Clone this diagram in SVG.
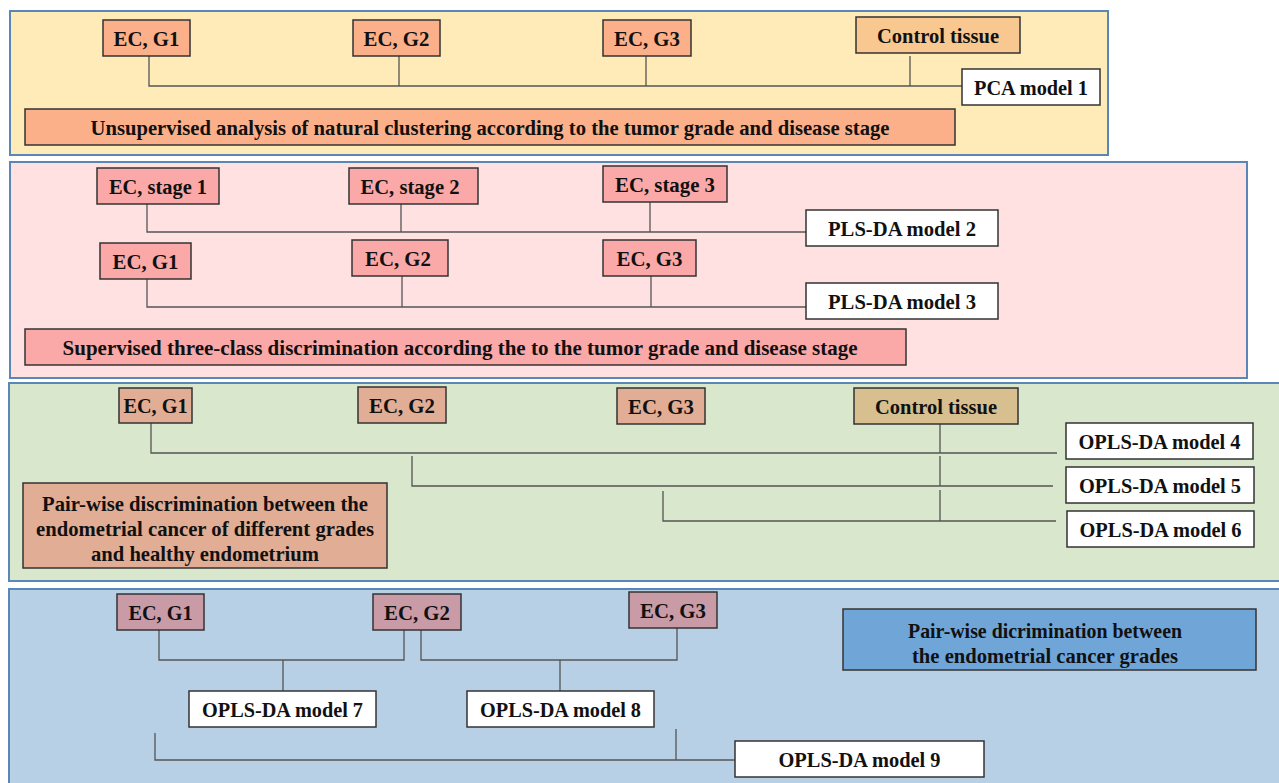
<svg xmlns="http://www.w3.org/2000/svg" width="1279" height="783" viewBox="0 0 1279 783">
<style>
.panel{stroke:#5B87B8;stroke-width:2}
.box{stroke:#333;stroke-width:1.5}
.t{font-family:"Liberation Serif","Times New Roman",serif;font-weight:bold;font-size:22px;fill:#111;text-anchor:middle;dominant-baseline:central}
.c{fill:none;stroke:#555;stroke-width:1.3}
.p1{fill:#FBB08A}.ct1{fill:#F9C890}.p2{fill:#FBA8A8}.p3{fill:#E1AD94}.ct3{fill:#D8BF90}.p4{fill:#C99BA6}.w{fill:#fff}.bl{fill:#70A5D8}
</style>
<rect width="1279" height="783" fill="#fff"/>
<g id="panel1"><rect class="panel" x="10" y="11" width="1098" height="144" fill="#FFEBB8"/></g>
<g id="panel2"><rect class="panel" x="10" y="162" width="1237" height="216" fill="#FFE1E2"/></g>
<g id="panel3"><rect class="panel" x="9" y="383" width="1272" height="198" fill="#D9E7CD"/></g>
<g id="panel4"><rect class="panel" x="9" y="589" width="1272" height="196" fill="#B8D0E6"/></g>

<g id="connectors">
<path class="c" d="M149 56V86H962M399 56V86M646 56V86M910 56V86"/>
<path class="c" d="M147 204V232H806M401 204V232M650 202V232"/>
<path class="c" d="M147 279V307H806M402 276V307M651 276V307"/>
<path class="c" d="M151 423V453H1057M412 456V486H1053M663 491V521H1056M940 424V453M940 456V486M940 490V521"/>
<path class="c" d="M159 630V660H404V630M283 660V691M421 630V660H677V628M560 660V691"/>
<path class="c" d="M155 733V760H735M676 729V760"/>
</g>

<g id="n1-g1"><rect class="box p1" x="103" y="20" width="87" height="36"/><text class="t" x="146.5" y="38" textLength="66" lengthAdjust="spacingAndGlyphs">EC, G1</text></g>
<g id="n1-g2"><rect class="box p1" x="353" y="20" width="87" height="36"/><text class="t" x="396.5" y="38" textLength="66" lengthAdjust="spacingAndGlyphs">EC, G2</text></g>
<g id="n1-g3"><rect class="box p1" x="603" y="20" width="88" height="36"/><text class="t" x="647" y="38" textLength="66" lengthAdjust="spacingAndGlyphs">EC, G3</text></g>
<g id="n1-ct"><rect class="box ct1" x="856" y="17" width="164" height="36"/><text class="t" x="938" y="35" textLength="122" lengthAdjust="spacingAndGlyphs">Control tissue</text></g>
<g id="n1-pca"><rect class="box w" x="962" y="69" width="138" height="36"/><text class="t" x="1031" y="87" textLength="114" lengthAdjust="spacingAndGlyphs">PCA model 1</text></g>
<g id="n1-bar"><rect class="box p1" x="25" y="109" width="930" height="36"/><text class="t" x="490" y="127" textLength="799" lengthAdjust="spacingAndGlyphs">Unsupervised analysis of natural clustering according to the tumor grade and disease stage</text></g>

<g id="n2-s1"><rect class="box p2" x="97" y="168" width="122" height="36"/><text class="t" x="158" y="186" textLength="98" lengthAdjust="spacingAndGlyphs">EC, stage 1</text></g>
<g id="n2-s2"><rect class="box p2" x="349" y="168" width="129" height="36"/><text class="t" x="410" y="186" textLength="99" lengthAdjust="spacingAndGlyphs">EC, stage 2</text></g>
<g id="n2-s3"><rect class="box p2" x="603" y="166" width="124" height="36"/><text class="t" x="665" y="184" textLength="100" lengthAdjust="spacingAndGlyphs">EC, stage 3</text></g>
<g id="n2-m2"><rect class="box w" x="806" y="210" width="192" height="36"/><text class="t" x="902" y="228" textLength="148" lengthAdjust="spacingAndGlyphs">PLS-DA model 2</text></g>
<g id="n2-g1"><rect class="box p2" x="100" y="243" width="91" height="36"/><text class="t" x="145.5" y="261" textLength="66" lengthAdjust="spacingAndGlyphs">EC, G1</text></g>
<g id="n2-g2"><rect class="box p2" x="352" y="240" width="96" height="36"/><text class="t" x="398" y="258" textLength="66" lengthAdjust="spacingAndGlyphs">EC, G2</text></g>
<g id="n2-g3"><rect class="box p2" x="603" y="240" width="93" height="36"/><text class="t" x="649.5" y="258" textLength="66" lengthAdjust="spacingAndGlyphs">EC, G3</text></g>
<g id="n2-m3"><rect class="box w" x="806" y="283" width="192" height="36"/><text class="t" x="902" y="301" textLength="148" lengthAdjust="spacingAndGlyphs">PLS-DA model 3</text></g>
<g id="n2-bar"><rect class="box p2" x="25" y="329" width="881" height="36"/><text class="t" x="460" y="347" textLength="795" lengthAdjust="spacingAndGlyphs">Supervised three-class discrimination according the to the tumor grade and disease stage</text></g>

<g id="n3-g1"><rect class="box p3" x="119" y="388" width="73" height="35"/><text class="t" x="155.5" y="405.5" textLength="64" lengthAdjust="spacingAndGlyphs">EC, G1</text></g>
<g id="n3-g2"><rect class="box p3" x="358" y="387" width="88" height="36"/><text class="t" x="402" y="405" textLength="66" lengthAdjust="spacingAndGlyphs">EC, G2</text></g>
<g id="n3-g3"><rect class="box p3" x="617" y="388" width="88" height="36"/><text class="t" x="661" y="406" textLength="66" lengthAdjust="spacingAndGlyphs">EC, G3</text></g>
<g id="n3-ct"><rect class="box ct3" x="854" y="388" width="164" height="36"/><text class="t" x="936" y="406" textLength="122" lengthAdjust="spacingAndGlyphs">Control tissue</text></g>
<g id="n3-m4"><rect class="box w" x="1066" y="423" width="187" height="36"/><text class="t" x="1159.5" y="441" textLength="162" lengthAdjust="spacingAndGlyphs">OPLS-DA model 4</text></g>
<g id="n3-m5"><rect class="box w" x="1066" y="467" width="188" height="36"/><text class="t" x="1160" y="485" textLength="162" lengthAdjust="spacingAndGlyphs">OPLS-DA model 5</text></g>
<g id="n3-m6"><rect class="box w" x="1067" y="511" width="187" height="36"/><text class="t" x="1160.5" y="529" textLength="162" lengthAdjust="spacingAndGlyphs">OPLS-DA model 6</text></g>
<g id="n3-bar"><rect class="box p3" x="23" y="483" width="364" height="85"/><text class="t" x="205" y="503" textLength="326" lengthAdjust="spacingAndGlyphs">Pair-wise discrimination between the</text><text class="t" x="205" y="528" textLength="338" lengthAdjust="spacingAndGlyphs">endometrial cancer of different grades</text><text class="t" x="205" y="553" textLength="228" lengthAdjust="spacingAndGlyphs">and healthy endometrium</text></g>

<g id="n4-g1"><rect class="box p4" x="117" y="594" width="87" height="36"/><text class="t" x="160.5" y="612" textLength="64" lengthAdjust="spacingAndGlyphs">EC, G1</text></g>
<g id="n4-g2"><rect class="box p4" x="373" y="594" width="88" height="36"/><text class="t" x="417" y="612" textLength="66" lengthAdjust="spacingAndGlyphs">EC, G2</text></g>
<g id="n4-g3"><rect class="box p4" x="629" y="592" width="88" height="36"/><text class="t" x="673" y="610" textLength="66" lengthAdjust="spacingAndGlyphs">EC, G3</text></g>
<g id="n4-bar"><rect class="box bl" x="843" y="609" width="413" height="61"/><text class="t" x="1045" y="630" textLength="274" lengthAdjust="spacingAndGlyphs">Pair-wise dicrimination between</text><text class="t" x="1045" y="655" textLength="266" lengthAdjust="spacingAndGlyphs">the endometrial cancer grades</text></g>
<g id="n4-m7"><rect class="box w" x="189" y="691" width="187" height="36"/><text class="t" x="282.5" y="709" textLength="161" lengthAdjust="spacingAndGlyphs">OPLS-DA model 7</text></g>
<g id="n4-m8"><rect class="box w" x="467" y="691" width="187" height="36"/><text class="t" x="560.5" y="709" textLength="161" lengthAdjust="spacingAndGlyphs">OPLS-DA model 8</text></g>
<g id="n4-m9"><rect class="box w" x="735" y="741" width="249" height="36"/><text class="t" x="859.5" y="759" textLength="162" lengthAdjust="spacingAndGlyphs">OPLS-DA model 9</text></g>
</svg>
